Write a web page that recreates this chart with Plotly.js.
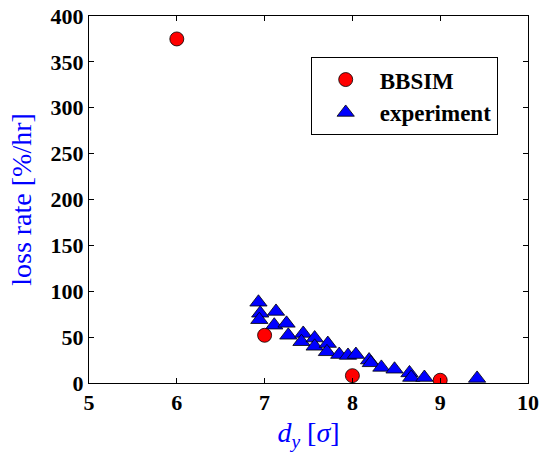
<!DOCTYPE html>
<html><head><meta charset="utf-8">
<script src="https://cdn.plot.ly/plotly-3.0.1.min.js"></script>
<style>body{margin:0;background:#fff}#c{width:541px;height:452px}</style>
</head><body><div id="c"></div>
<script>
const bbsimX = [6, 7, 8, 9];
const bbsimY = [375, 52, 8, 3];
const expX = [6.93, 6.95, 6.94, 7.13, 7.11, 7.25, 7.27, 7.44, 7.42, 7.57, 7.57, 7.72, 7.71, 7.85, 7.95, 8.04, 8.19, 8.21, 8.33, 8.48, 8.65, 8.67, 8.82, 9.42];
const expY = [88, 76, 69, 78, 63, 65, 52, 54, 45, 49, 40, 43, 34, 31, 30, 31, 25, 22, 17, 15, 11, 6, 6, 5];
const xTicks = [5, 6, 7, 8, 9, 10];
const yTicks = [0, 50, 100, 150, 200, 250, 300, 350, 400];

const serif = "'Liberation Serif', 'DejaVu Serif', serif";
const data = [
  {x: expX, y: expY, mode: 'markers', type: 'scatter', name: 'experiment',
   marker: {symbol: 'triangle-up', size: 15, color: '#0000ff', line: {color: '#000', width: 0.8}}},
  {x: bbsimX, y: bbsimY, mode: 'markers', type: 'scatter', name: 'BBSIM',
   marker: {symbol: 'circle', size: 14, color: '#ff0000', line: {color: '#000', width: 0.8}}}
];
const layout = {
  width: 541, height: 452,
  margin: {l: 89, r: 13, t: 16, b: 69},
  paper_bgcolor: '#fff', plot_bgcolor: '#fff',
  showlegend: true,
  legend: {x: 0.505, y: 0.888, xanchor: 'left', yanchor: 'top', traceorder: 'reversed',
    bordercolor: '#000', borderwidth: 1, bgcolor: '#fff', tracegroupgap: 0,
    font: {family: serif, size: 23, color: '#000', weight: 'bold'}, itemwidth: 58},
  xaxis: {range: [5, 10], tickvals: xTicks, ticktext: xTicks.map(v => '<b>' + v + '</b>'),
    showgrid: false, zeroline: false, showline: true, linecolor: '#000', linewidth: 1, mirror: 'ticks',
    ticks: 'inside', ticklen: 5, tickcolor: '#000',
    tickfont: {family: serif, size: 22, color: '#000'},
    title: {text: '<i>d<sub>y</sub></i> [<i>σ</i>]', font: {family: serif, size: 28, color: '#0000ff'}, standoff: 8}},
  yaxis: {range: [0, 400], tickvals: yTicks, ticktext: yTicks.map(v => '<b>' + v + '</b>'),
    showgrid: false, zeroline: false, showline: true, linecolor: '#000', linewidth: 1, mirror: 'ticks',
    ticks: 'inside', ticklen: 5, tickcolor: '#000',
    tickfont: {family: serif, size: 22, color: '#000'},
    title: {text: 'loss rate [%/hr]', font: {family: serif, size: 28, color: '#0000ff'}, standoff: 10}}
};
Plotly.newPlot('c', data, layout, {displayModeBar: false, staticPlot: true});
</script></body></html>
